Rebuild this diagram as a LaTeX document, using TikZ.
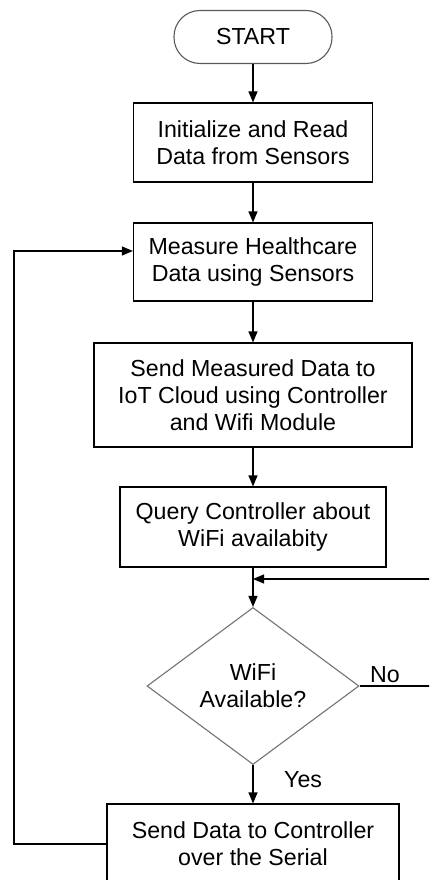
\documentclass[tikz,border=0pt]{standalone}
\usepackage{fontspec}
\setmainfont{Liberation Sans}
\usetikzlibrary{shapes.geometric,arrows.meta}
\begin{document}
\begin{tikzpicture}[x=1pt,y=-1pt,
  every node/.style={font=\fontsize{23.2}{27}\selectfont, align=center, inner sep=0pt},
  procbox/.style={draw=black, line width=1.2pt, rectangle},
  termbox/.style={draw=black!65, line width=1.1pt, rectangle, rounded corners=26pt,
    minimum width=158pt, minimum height=53pt},
  decbox/.style={draw=black!55, line width=1.1pt, diamond, shape aspect=1.35,
    minimum width=212pt, minimum height=157pt},
  flow/.style={line width=1.2pt, -{Triangle[length=11pt,width=9pt]}},
  link/.style={line width=1.2pt}]
\clip (0,0) rectangle (429,880);
\fill[white] (0,0) rectangle (429,880);

\node[termbox] (start) at (253,37) {START};
\node[procbox, minimum width=239pt, minimum height=79pt] (init) at (253,142.5)
  {Initialize and Read\\Data from Sensors};
\node[procbox, minimum width=239pt, minimum height=78pt] (meas) at (253,262)
  {Measure Healthcare\\Data using Sensors};
\node[procbox, minimum width=318pt, minimum height=104pt] (send) at (253,395)
  {Send Measured Data to\\IoT Cloud using Controller\\and Wifi Module};
\node[procbox, minimum width=266pt, minimum height=80pt] (query) at (253,527)
  {Query Controller about\\WiFi availabity};
\node[decbox] (wifi) at (253,686) {WiFi\\Available?};
\node[procbox, minimum width=292pt, minimum height=80pt] (serial) at (253,844)
  {Send Data to Controller\\over the Serial};

\coordinate (join) at (253,579);
\coordinate (noR) at (445,686);
\coordinate (noT) at (445,579);
\coordinate (fbB) at (14,844);
\coordinate (fbT) at (14,251);

\draw[flow] (start) -- (init);
\draw[flow] (init) -- (meas);
\draw[flow] (meas) -- (send);
\draw[flow] (send) -- (query);
\draw[flow] (query) -- (wifi);
\draw[flow] (wifi) -- (serial);
\draw[flow] (wifi.east) -- (noR) -- (noT) -- (join);
\draw[flow] (serial.west |- fbB) -- (fbB) -- (fbT) -- (fbT -| meas.west);

\node[anchor=south west] (nolab) at (370,683) {No};
\node[anchor=west] (yeslab) at (284,780) {Yes};
\end{tikzpicture}
\end{document}
